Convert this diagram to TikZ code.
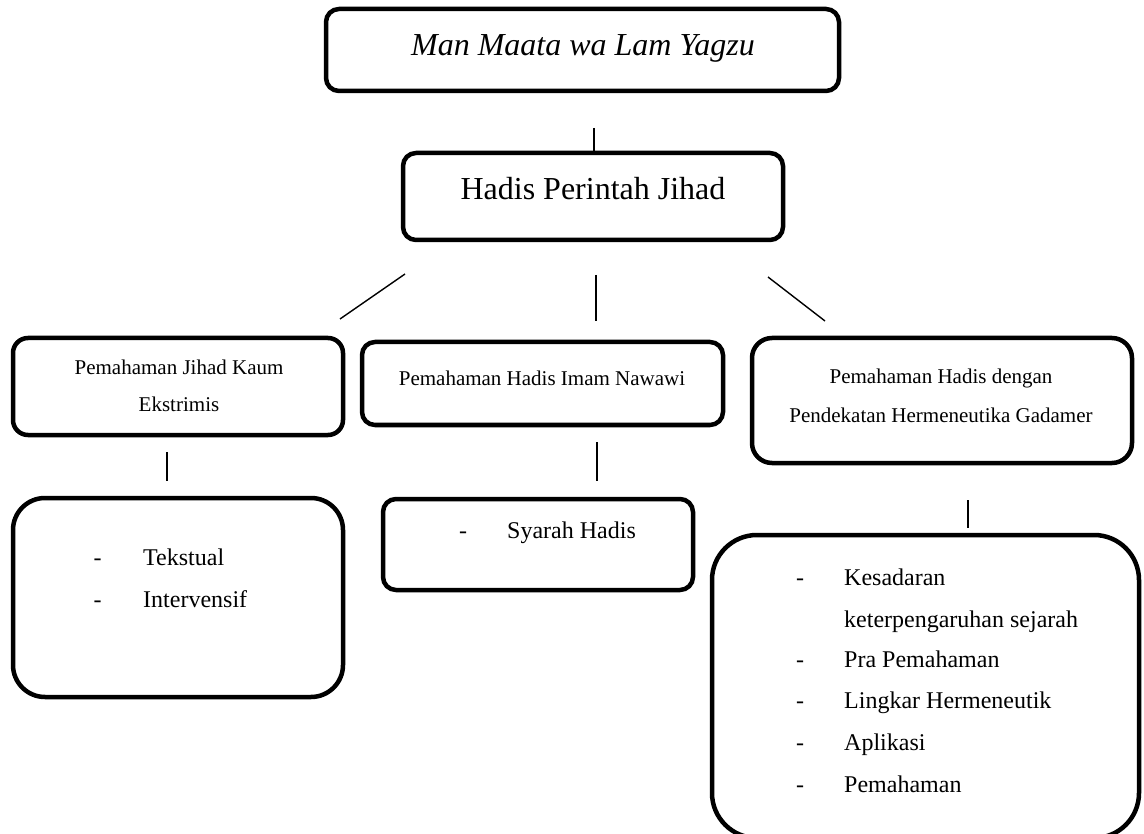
\documentclass[tikz,border=0pt]{standalone}
\usepackage{fontspec}
\setmainfont{Liberation Serif}
\begin{document}
\begin{tikzpicture}[x=1pt,y=-1pt,
  box/.style={draw=black, line width=4.5pt, rounded corners=#1, inner sep=0pt, fill=none},
  box/.default=13pt,
  conn/.style={draw=black, line width=1.4pt},
  big/.style={anchor=base, inner sep=0pt, font=\fontsize{32}{38}\selectfont},
  mid/.style={anchor=base, inner sep=0pt, font=\fontsize{21}{25}\selectfont},
  item/.style={anchor=base west, inner sep=0pt, font=\fontsize{24}{29}\selectfont},
  dashmark/.style={anchor=base, inner sep=0pt, font=\fontsize{24}{29}\selectfont}]
\useasboundingbox[fill=white] (0,0) rectangle (1144,834);

% boxes
\node[box, minimum width=513pt, minimum height=82pt] (btop) at (582.5,50) {};
\node[box, minimum width=380pt, minimum height=87pt] (bhadis) at (593,196.5) {};
\node[box=15pt, minimum width=330pt, minimum height=97pt] (bleft1) at (178,386.5) {};
\node[box, minimum width=361pt, minimum height=83pt] (bmid1) at (542.5,383.5) {};
\node[box=20pt, minimum width=380pt, minimum height=125pt] (bright1) at (942,400.5) {};
\node[box=32pt, minimum width=330pt, minimum height=199pt] (bleft2) at (178,597.5) {};
\node[box, minimum width=310pt, minimum height=91pt] (bmid2) at (538,544.5) {};
\node[box=45pt, minimum width=427pt, minimum height=303pt] (bright2) at (925.5,686.5) {};

% texts
\node[big, font=\fontsize{32}{38}\selectfont\itshape] (ttop) at (583,56) {Man Maata wa Lam Yagzu};
\node[big] (thadis) at (593,200) {Hadis Perintah Jihad};
\node[mid] (tleft1a) at (179,375) {Pemahaman Jihad Kaum};
\node[mid] (tleft1b) at (179,412) {Ekstrimis};
\node[mid] (tmid1) at (542,385) {Pemahaman Hadis Imam Nawawi};
\node[mid] (tright1a) at (941,384) {Pemahaman Hadis dengan};
\node[mid] (tright1b) at (941,422) {Pendekatan Hermeneutika Gadamer};

\node[dashmark] (dl1) at (97.5,565) {-};
\node[item] (il1) at (143,565) {Tekstual};
\node[dashmark] (dl2) at (97.5,607) {-};
\node[item] (il2) at (143,607) {Intervensif};

\node[dashmark] (dm1) at (463,538) {-};
\node[item] (im1) at (507,538) {Syarah Hadis};

\node[dashmark] (dr1) at (800,585) {-};
\node[item] (ir1) at (844,585) {Kesadaran};
\node[item] (ir1b) at (844,627) {keterpengaruhan sejarah};
\node[dashmark] (dr2) at (800,667) {-};
\node[item] (ir2) at (844,667) {Pra Pemahaman};
\node[dashmark] (dr3) at (800,708) {-};
\node[item] (ir3) at (844,708) {Lingkar Hermeneutik};
\node[dashmark] (dr4) at (800,750) {-};
\node[item] (ir4) at (844,750) {Aplikasi};
\node[dashmark] (dr5) at (800,792) {-};
\node[item] (ir5) at (844,792) {Pemahaman};

% connector end points
\coordinate (c1a) at (594,128);  \coordinate (c1b) at (594,152);
\coordinate (c2a) at (405,274);  \coordinate (c2b) at (340,319);
\coordinate (c3a) at (596,275);  \coordinate (c3b) at (596,321);
\coordinate (c4a) at (768,277);  \coordinate (c4b) at (825,321);
\coordinate (c5a) at (167,452);  \coordinate (c5b) at (167,481);
\coordinate (c6a) at (597,442);  \coordinate (c6b) at (597,481);
\coordinate (c7a) at (968,500);  \coordinate (c7b) at (968,528);

\draw[conn] (c1a) -- (c1b);
\draw[conn] (c2a) -- (c2b);
\draw[conn] (c3a) -- (c3b);
\draw[conn] (c4a) -- (c4b);
\draw[conn] (c5a) -- (c5b);
\draw[conn] (c6a) -- (c6b);
\draw[conn] (c7a) -- (c7b);
\end{tikzpicture}
\end{document}
